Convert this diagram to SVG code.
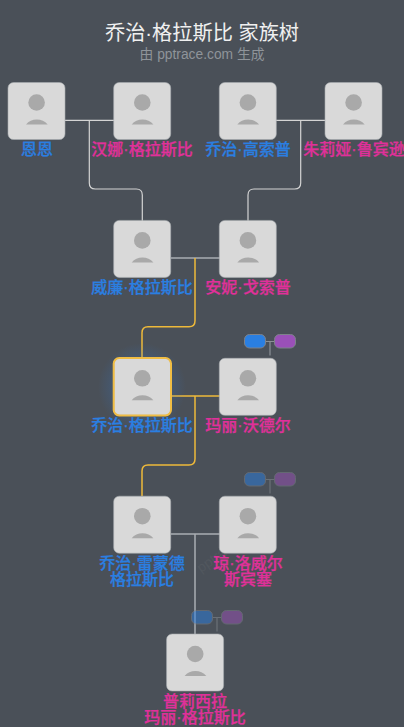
<svg xmlns="http://www.w3.org/2000/svg" width="404" height="727" viewBox="0 0 404 727">
<defs>
<radialGradient id="glow"><stop offset="0.6" stop-color="#2f7fe0" stop-opacity="0.2"/><stop offset="1" stop-color="#2f7fe0" stop-opacity="0"/></radialGradient>
<g id="card">
<rect class="box" x="0" y="0" width="57" height="57" rx="5.500"/>
<circle class="fig" cx="28.600" cy="20" r="8.300"/>
<path class="fig" d="M18 42 C20.500 38.500 24.500 37 28.800 37 C33 37 37 38.500 39.700 42 Z"/>
</g>
<g id="glasses">
<path d="M0 6.500H26M13 6.500V20.500" class="gl"/>
<rect x="-12.500" y="-0.500" width="21" height="13.500" rx="5" fill="#2a7fe2" class="lens"/>
<rect x="17.500" y="-0.500" width="21" height="13.500" rx="5" fill="#9a50b8" class="lens"/>
</g>
</defs>
<style>
text{font-family:"Liberation Sans","Noto Sans CJK SC",sans-serif;text-anchor:middle}
.box{fill:#d9d9d9;stroke:#a8acb0;stroke-width:0.600}
.fig{fill:#a9a9a9}
.n{font-size:16px;font-weight:500;stroke-width:0.250}
.m{fill:#2a7fe2;stroke:#2a7fe2}.f{fill:#e0309a;stroke:#e0309a}
.w{fill:none;stroke:#d4d4d4;stroke-width:1.200}
.y{fill:none;stroke:#eeb93a;stroke-width:1.500}
.g{fill:none;stroke:#a9adb2;stroke-width:1.500}
.gl{fill:none;stroke:#8b9096;stroke-width:1.200}
.lens{stroke:#7d828a;stroke-width:1}
</style>
<rect width="404" height="727" fill="#4a5058"/>
<text id="title" x="202" y="39.500" font-size="20.200" fill="#f0f0f0">乔治·格拉斯比 家族树</text>
<text id="subtitle" x="202" y="59" font-size="13.800" fill="#8f949a">由 pptrace.com 生成</text>
<text id="watermark" x="201" y="573" font-size="14" fill="#51575e" transform="rotate(-35 201 573)" style="text-anchor:start">pptrace.com</text>
<g id="connectors">
<path class="w" d="M65 120.300H114M89.300 120.300V183Q89.300 189 95.300 189H136.300Q142.300 189 142.300 195V221"/>
<path class="w" d="M276 120.300H325M300.700 120.300V183Q300.700 189 294.700 189H254Q248 189 248 195V221"/>
<path class="g" d="M171 258H220"/>
<path class="y" d="M195 258V320.700Q195 326.700 189 326.700H148Q142 326.700 142 332.700V358"/>
<path class="y" d="M172 396H220M195 396V459Q195 465 189 465H148Q142 465 142 471V496"/>
<path class="g" d="M171 534H220M195 534V634"/>
</g>
<g id="n-enen"><use href="#card" x="8" y="82.500"/><text class="n m" x="37" y="155">恩恩</text></g>
<g id="n-hanna"><use href="#card" x="113.700" y="82.500"/><text class="n f" x="142" y="155">汉娜·格拉斯比</text></g>
<g id="n-george-gossop"><use href="#card" x="219.300" y="82.500"/><text class="n m" x="248" y="155">乔治·高索普</text></g>
<g id="n-julia"><use href="#card" x="325" y="82.500"/><text class="n f" x="354" y="155">朱莉娅·鲁宾逊</text></g>
<g id="n-william"><use href="#card" x="113.700" y="220.400"/><text class="n m" x="142" y="293">威廉·格拉斯比</text></g>
<g id="n-annie"><use href="#card" x="219.300" y="220.400"/><text class="n f" x="248" y="293">安妮·戈索普</text></g>
<g id="n-george"><circle cx="142" cy="387" r="44" fill="url(#glow)"/><use href="#card" x="113.700" y="358.300"/><rect x="113.700" y="358.100" width="57.300" height="57.300" rx="5.500" fill="none" stroke="#f0bd44" stroke-width="2"/><text class="n m" x="142" y="431">乔治·格拉斯比</text></g>
<g id="n-mary"><use href="#card" x="219.300" y="358.300"/><text class="n f" x="248" y="431">玛丽·沃德尔</text></g>
<g id="n-bertie"><use href="#card" x="113.700" y="496.200"/><text class="n m" x="142" y="569">乔治·雷蒙德</text><text class="n m" x="142" y="585">格拉斯比</text></g>
<g id="n-elizabeth"><use href="#card" x="219.300" y="496.200"/><text class="n f" x="248" y="569">琼·洛威尔</text><text class="n f" x="248" y="585">斯宾塞</text></g>
<g id="n-margaret"><use href="#card" x="166.600" y="634"/><text class="n f" x="195" y="707">普莉西拉</text><text class="n f" x="195" y="723">玛丽·格拉斯比</text></g>
<use id="g1" href="#glasses" x="257" y="335"/>
<use id="g2" href="#glasses" x="257" y="473" opacity="0.5"/>
<use id="g3" href="#glasses" x="204" y="611" opacity="0.5"/>
</svg>
